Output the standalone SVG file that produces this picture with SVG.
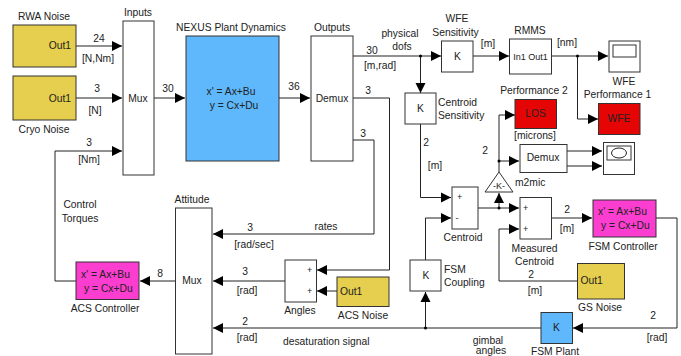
<svg xmlns="http://www.w3.org/2000/svg" width="681" height="356" viewBox="0 0 681 356">
<defs>
<marker id="a" markerUnits="userSpaceOnUse" markerWidth="11" markerHeight="11" refX="10" refY="5.5" orient="auto"><path d="M0 0.5L10 5.5L0 10.5Z" fill="#000"/></marker>
</defs>
<style>
text{font-family:"Liberation Sans",Arial,sans-serif;font-size:10.3px;fill:#222}
.m{text-anchor:middle}
.b{stroke:#333;stroke-width:1;fill:#fff}
.y{fill:#e6cf4f}.c{fill:#5eb8fb}.p{fill:#fb3ed0}.r{fill:#e60505}
.w{fill:none;stroke:#222;stroke-width:1}
.s{font-size:9px}
</style>
<rect width="681" height="356" fill="#fff"/>
<g id="connectors">
<path class="w" marker-end="url(#a)" d="M76 46H122"/>
<path class="w" marker-end="url(#a)" d="M76 98H122"/>
<path class="w" marker-end="url(#a)" d="M55 281V151H122"/>
<path class="w" d="M55 281H76"/>
<path class="w" marker-end="url(#a)" d="M154 98H185"/>
<path class="w" marker-end="url(#a)" d="M279 98H310"/>
<path class="w" marker-end="url(#a)" d="M353 56H441"/>
<path class="w" marker-end="url(#a)" d="M420.500 56V93"/>
<path class="w" marker-end="url(#a)" d="M473 56H509"/>
<path class="w" marker-end="url(#a)" d="M551 56H608"/>
<path class="w" marker-end="url(#a)" d="M577.500 56V119H598"/>
<path class="w" marker-end="url(#a)" d="M353 98H389.500V270H317"/>
<path class="w" marker-end="url(#a)" d="M353 140H374V234H213"/>
<path class="w" marker-end="url(#a)" d="M337 291H317"/>
<path class="w" marker-end="url(#a)" d="M285 281H213"/>
<path class="w" marker-end="url(#a)" d="M175 281H140"/>
<path class="w" marker-end="url(#a)" d="M420.500 124V197.500H451"/>
<path class="w" marker-end="url(#a)" d="M425.500 260V218H451"/>
<path class="w" marker-end="url(#a)" d="M478 208H519"/>
<path class="w" marker-end="url(#a)" d="M499 208V193"/>
<path class="w" marker-end="url(#a)" d="M499 172V115H515"/>
<path class="w" marker-end="url(#a)" d="M499 161H519"/>
<path class="w" marker-end="url(#a)" d="M567 151H602"/>
<path class="w" marker-end="url(#a)" d="M567 166H602"/>
<path class="w" marker-end="url(#a)" d="M577 281H499V229H519"/>
<path class="w" marker-end="url(#a)" d="M551 218H592"/>
<path class="w" d="M656 218H677V328"/>
<path class="w" marker-end="url(#a)" d="M677 328H573"/>
<path class="w" marker-end="url(#a)" d="M541 328H213"/>
<path class="w" marker-end="url(#a)" d="M425.500 328V292"/>
<circle cx="420.500" cy="56" r="1.500"/>
<circle cx="577.500" cy="56" r="1.500"/>
<circle cx="499" cy="161" r="1.500"/>
<circle cx="499" cy="208" r="1.500"/>
<circle cx="425.500" cy="328" r="1.500"/>
</g>
<g id="rwa-noise"><rect class="b y" x="13" y="25" width="63" height="42"/><text x="71" y="49" text-anchor="end">Out1</text><text class="m" x="44" y="20">RWA Noise</text></g>
<g id="cryo-noise"><rect class="b y" x="13" y="76" width="63" height="44"/><text x="71" y="102" text-anchor="end">Out1</text><text class="m" x="44" y="133">Cryo Noise</text></g>
<g id="inputs"><rect class="b" x="123" y="21" width="31" height="154"/><text class="m" x="138" y="102">Mux</text><text class="m" x="138" y="16">Inputs</text></g>
<g id="plant"><rect class="b c" x="186" y="36" width="93" height="125"/><text class="m" x="231" y="95">x' = Ax+Bu</text><text class="m" x="234" y="109">y = Cx+Du</text><text class="m" x="231" y="31">NEXUS Plant Dynamics</text></g>
<g id="demux"><rect class="b" x="311" y="36" width="42" height="125"/><text class="m" x="332" y="102">Demux</text><text class="m" x="332" y="31">Outputs</text></g>
<g id="wfe-sensitivity"><rect class="b" x="441.500" y="41" width="31.500" height="31"/><text class="m" x="457.500" y="60">K</text><text class="m" x="457" y="22">WFE</text><text class="m" x="455.500" y="36">Sensitivity</text></g>
<g id="rmms"><rect class="b" x="509.500" y="39" width="42" height="35"/><text class="m s" x="530.500" y="60">In1 Out1</text><text class="m" x="530" y="34">RMMS</text></g>
<g id="scope1"><rect class="b" x="609" y="41" width="31" height="31"/><rect class="b" x="613" y="45" width="23" height="12"/><text class="m" x="624" y="85">WFE</text><text class="m" x="617.500" y="98">Performance 1</text></g>
<g id="wfe"><rect class="b r" x="598.500" y="103.500" width="41.500" height="31"/><text class="m" x="619" y="122">WFE</text></g>
<g id="centroid-sensitivity"><rect class="b" x="405" y="93" width="31" height="31"/><text class="m" x="420.500" y="112">K</text><text x="438" y="106">Centroid</text><text x="438" y="119">Sensitivity</text></g>
<g id="los"><rect class="b r" x="515" y="99.500" width="41.500" height="29"/><text class="m" x="535.500" y="117">LOS</text><text class="m" x="534" y="94">Performance 2</text><text class="m" x="535" y="139">[microns]</text></g>
<g id="demux2"><rect class="b" x="520" y="144.500" width="47" height="28"/><text class="m" x="543" y="161">Demux</text></g>
<g id="scope2"><rect class="b" x="603.500" y="142.500" width="31" height="32"/><rect class="b" x="607" y="146" width="24" height="14"/><ellipse cx="619" cy="153" rx="7.500" ry="5" fill="none" stroke="#222"/></g>
<g id="m2mic"><path class="b" d="M499 172L513 192H485Z"/><text class="m s" x="499" y="189">-K-</text><text x="515" y="186">m2mic</text></g>
<g id="centroid"><rect class="b" x="452" y="187" width="26" height="42"/><text x="457" y="200" class="s">+</text><text x="455.500" y="221" class="s">-</text><text class="m" x="463" y="241">Centroid</text></g>
<g id="measured-centroid"><rect class="b" x="520" y="197.500" width="31.500" height="41.500"/><text x="523" y="211" class="s">+</text><text x="523" y="232" class="s">+</text><text class="m" x="534.500" y="252">Measured</text><text class="m" x="534.500" y="265">Centroid</text></g>
<g id="fsm-controller"><rect class="b p" x="593" y="200" width="63" height="37"/><text x="598" y="215">x' = Ax+Bu</text><text x="601" y="229">y = Cx+Du</text><text class="m" x="623" y="250">FSM Controller</text></g>
<g id="gs-noise"><rect class="b y" x="577.500" y="263.500" width="47" height="35.500"/><text x="580.500" y="284">Out1</text><text class="m" x="600" y="311">GS Noise</text></g>
<g id="fsm-plant"><rect class="b c" x="541" y="312.500" width="31.500" height="31"/><text class="m" x="556.500" y="331">K</text><text class="m" x="555" y="355">FSM Plant</text></g>
<g id="fsm-coupling"><rect class="b" x="410" y="260" width="31" height="31"/><text class="m" x="426" y="279">K</text><text x="444" y="273">FSM</text><text x="444" y="286">Coupling</text></g>
<g id="acs-noise"><rect class="b y" x="337" y="277" width="52" height="29.500"/><text x="340" y="295">Out1</text><text class="m" x="363" y="319">ACS Noise</text></g>
<g id="angles"><rect class="b" x="285" y="260" width="31.500" height="42"/><text x="307" y="273" class="s">+</text><text x="307" y="294" class="s">+</text><text class="m" x="300" y="314">Angles</text></g>
<g id="attitude"><rect class="b" x="175.500" y="208" width="36.500" height="146"/><text class="m" x="192" y="284">Mux</text><text class="m" x="192" y="203">Attitude</text></g>
<g id="acs-controller"><rect class="b p" x="76" y="262" width="63" height="37.500"/><text x="81" y="278">x' = Ax+Bu</text><text x="84" y="292">y = Cx+Du</text><text class="m" x="105" y="312">ACS Controller</text></g>
<g id="labels">
<text class="m" x="99" y="42">24</text><text class="m" x="98" y="62">[N,Nm]</text>
<text class="m" x="97" y="92">3</text><text class="m" x="95" y="114">[N]</text>
<text class="m" x="89" y="146">3</text><text class="m" x="89" y="163">[Nm]</text>
<text class="m" x="168" y="92">30</text><text class="m" x="294" y="90">36</text>
<text class="m" x="80" y="208">Control</text><text class="m" x="80" y="222">Torques</text>
<text class="m" x="372" y="54">30</text><text class="m" x="380" y="69">[m,rad]</text>
<text class="m" x="400" y="37">physical</text><text class="m" x="402" y="50">dofs</text>
<text class="m" x="488" y="47">[m]</text><text class="m" x="567" y="46">[nm]</text>
<text class="m" x="368" y="94">3</text><text class="m" x="363" y="137">3</text>
<text class="m" x="426" y="146">2</text><text class="m" x="435" y="169">[m]</text>
<text class="m" x="485" y="154">2</text>
<text class="m" x="250" y="231">3</text><text class="m" x="254" y="248">[rad/sec]</text><text class="m" x="326" y="230">rates</text>
<text class="m" x="245" y="275">3</text><text class="m" x="247" y="294">[rad]</text>
<text class="m" x="160" y="277">8</text>
<text class="m" x="245" y="325">2</text><text class="m" x="247" y="341">[rad]</text>
<text x="283" y="345">desaturation signal</text>
<text class="m" x="488" y="344">gimbal</text><text class="m" x="491" y="353.500">angles</text>
<text class="m" x="567" y="213">2</text><text class="m" x="567" y="232">[m]</text>
<text class="m" x="531" y="278">2</text><text class="m" x="535" y="294">[m]</text>
<text class="m" x="653" y="319">2</text><text class="m" x="657" y="341">[rad]</text>
</g>
</svg>
